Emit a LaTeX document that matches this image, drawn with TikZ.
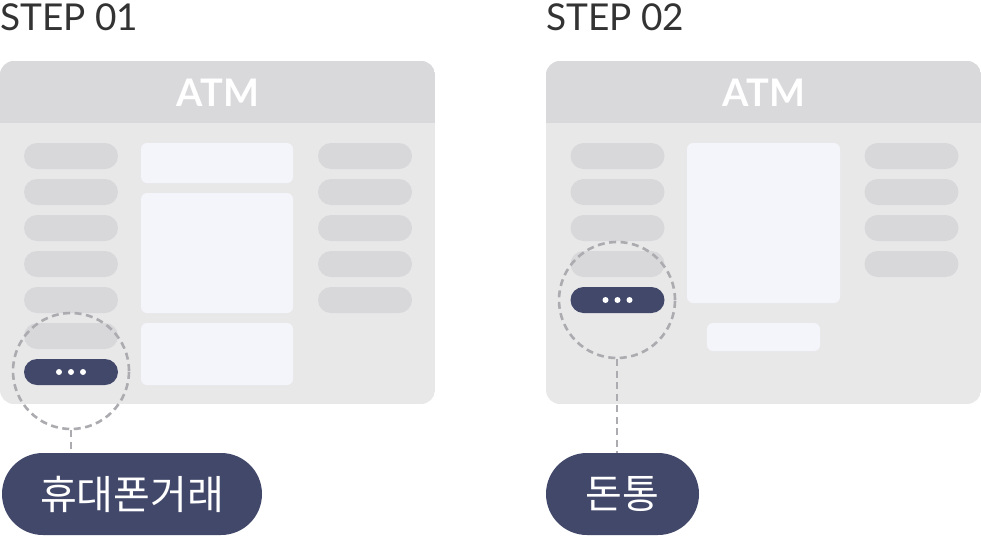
\documentclass[tikz,border=0pt]{standalone}
\usepackage{fontspec}
\usepackage{xcolor}
\usepackage{tikz}
\usetikzlibrary{positioning, calc}
\setmainfont{Lato}
\newfontfamily\kofont{Noto Sans CJK KR}

\definecolor{atmhead}{HTML}{D9D9DC}
\definecolor{atmbody}{HTML}{E8E8E9}
\definecolor{keygray}{HTML}{D8D8DB}
\definecolor{screenfill}{HTML}{F4F4FB}
\definecolor{navy}{HTML}{42486A}
\definecolor{ringgray}{HTML}{ABABB0}
\definecolor{steptext}{HTML}{333333}

\tikzset{
    steplabel/.style={anchor=base west, inner sep=0pt, text=steptext, font=\fontsize{37}{37}\selectfont},
    atmlabel/.style={anchor=base, inner sep=0pt, text=white, font=\fontsize{38}{38}\selectfont\bfseries},
    keybox/.style={fill=keygray, rounded corners=13pt, minimum width=94pt, minimum height=26pt, inner sep=0pt},
    morekey/.style={keybox, fill=navy},
    screenbox/.style={fill=screenfill, rounded corners=6pt, inner sep=0pt},
    ring/.style={circle, draw=ringgray, line width=2.6pt, dash pattern=on 7pt off 4.5pt, minimum size=116pt, inner sep=0pt},
    ringline/.style={draw=ringgray, line width=2.6pt, dash pattern=on 7pt off 4.5pt},
    callout/.style={fill=navy, text=white, rounded corners=41pt, minimum height=82pt, inner sep=0pt, font=\kofont\fontsize{40}{40}\selectfont}
}

\begin{document}
\begin{tikzpicture}[x=1pt, y=-1pt]
    \useasboundingbox (0,0) rectangle (981,536);

    % step 01
    \node[steplabel] (step1) at (0,30) {STEP 01};
    \begin{scope}
        \clip[rounded corners=14pt] (0,61) rectangle (435,404);
        \fill[atmbody] (0,61) rectangle (435,404);
        \fill[atmhead] (0,61) rectangle (435,123);
    \end{scope}
    \node[atmlabel] (atm1) at (218,106) {ATM};
    \foreach \y [count=\i] in {156,192,228,264,300,336} {
        \node[keybox] (left1-\i) at (71,\y) {};
    }
    \foreach \y [count=\i] in {156,192,228,264,300} {
        \node[keybox] (right1-\i) at (365,\y) {};
    }
    \node[morekey] (more1) at (71,372) {};
    \foreach \dx in {-12,0,12}
        \fill[white] ($(more1)+(\dx,0)$) circle (3pt);
    \node[screenbox, minimum width=152pt, minimum height=40pt] (scr1-a) at (217,163) {};
    \node[screenbox, minimum width=152pt, minimum height=120pt] (scr1-b) at (217,253) {};
    \node[screenbox, minimum width=152pt, minimum height=62pt] (scr1-c) at (217,354) {};
    \node[ring] (ring1) at (71,371) {};
    \node[callout, minimum width=260pt] (call1) at (132,494) {휴대폰거래};
    \draw[ringline] (ring1.south) -- (ring1.south |- call1.north);

    % step 02
    \node[steplabel] (step2) at (546,30) {STEP 02};
    \begin{scope}
        \clip[rounded corners=14pt] (546,61) rectangle (981,404);
        \fill[atmbody] (546,61) rectangle (981,404);
        \fill[atmhead] (546,61) rectangle (981,123);
    \end{scope}
    \node[atmlabel] (atm2) at (764,106) {ATM};
    \foreach \y [count=\i] in {156,192,228,264} {
        \node[keybox] (left2-\i) at (617.5,\y) {};
        \node[keybox] (right2-\i) at (911.5,\y) {};
    }
    \node[morekey] (more2) at (617.5,300) {};
    \foreach \dx in {-12,0,12}
        \fill[white] ($(more2)+(\dx,0)$) circle (3pt);
    \node[screenbox, minimum width=153pt, minimum height=160pt] (scr2-a) at (763.5,223) {};
    \node[screenbox, minimum width=113pt, minimum height=28pt] (scr2-b) at (763.5,337) {};
    \node[ring] (ring2) at (617,300) {};
    \node[callout, minimum width=153pt] (call2) at (622.5,494) {돈통};
    \draw[ringline] (ring2.south) -- (ring2.south |- call2.north);
\end{tikzpicture}
\end{document}
